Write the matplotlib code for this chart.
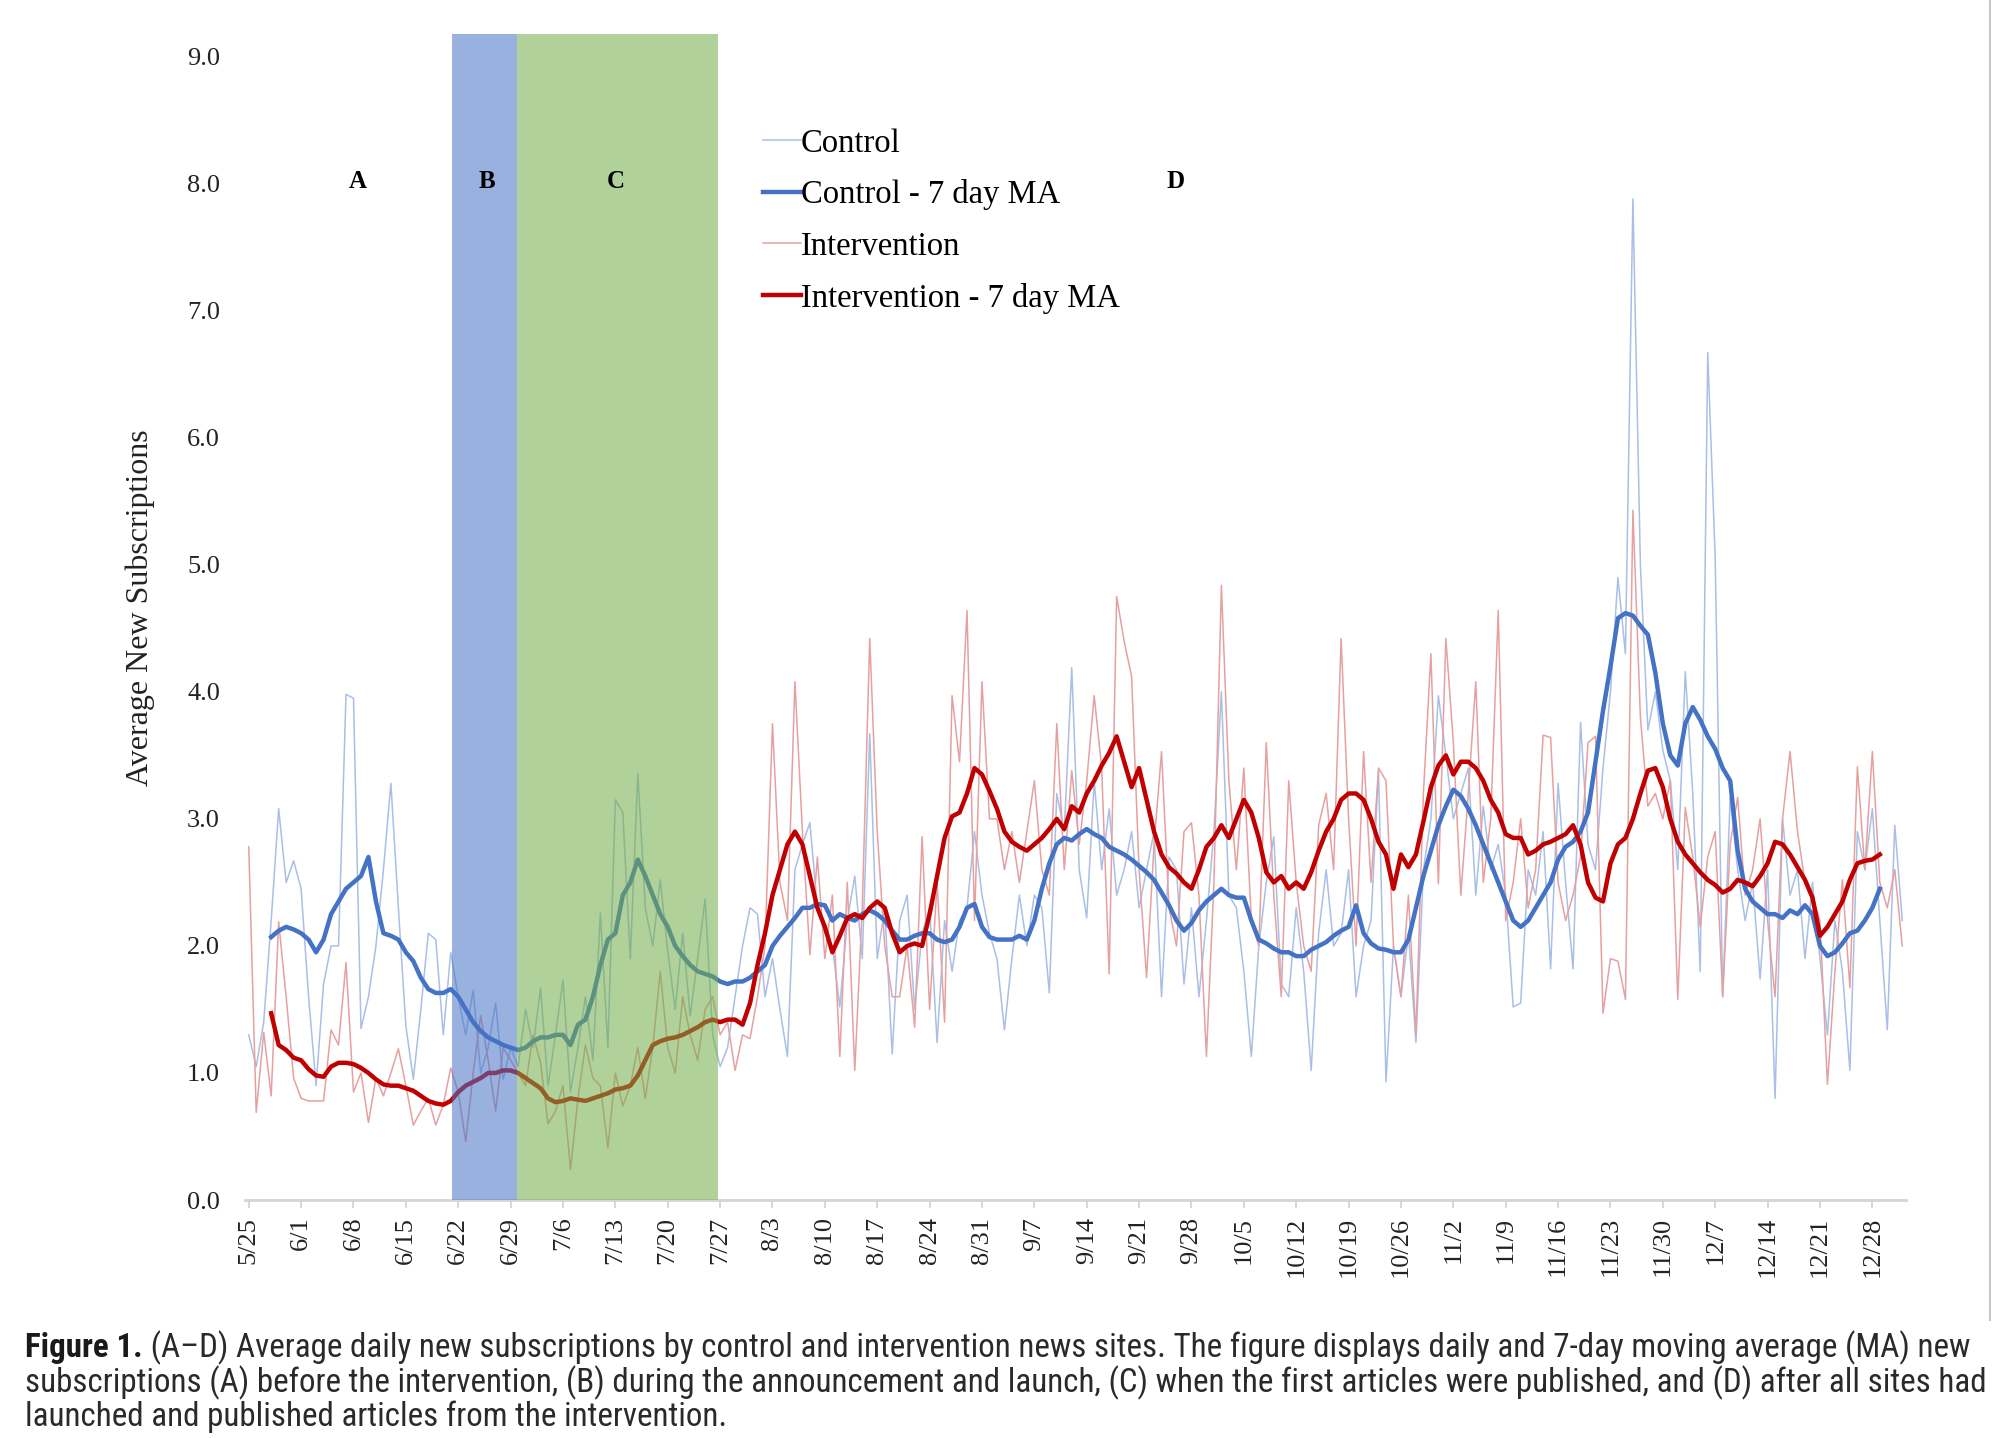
import matplotlib
matplotlib.use("Agg")
import matplotlib.pyplot as plt
from matplotlib import font_manager
from matplotlib.lines import Line2D
import numpy as np

# daily values, 5/25 .. 1/1 (one per day)
control_daily = [
    1.3, 1.05, 1.4, 2.2, 3.08, 2.5, 2.67,
    2.45, 1.6, 0.9, 1.7, 2.0, 2.0, 3.98,
    3.95, 1.35, 1.6, 2.0, 2.6, 3.28, 2.3,
    1.37, 0.95, 1.5, 2.1, 2.05, 1.3, 1.95,
    1.6, 1.3, 1.65, 1.0, 1.2, 1.55, 0.95,
    1.2, 1.05, 1.5, 1.2, 1.67, 0.9, 1.3,
    1.73, 0.85, 1.2, 1.6, 1.1, 2.26, 1.2,
    3.15, 3.05, 1.9, 3.36, 2.3, 2.0, 2.52,
    1.96, 1.5, 2.1, 1.45, 1.9, 2.37, 1.3,
    1.05, 1.2, 1.6, 2.0, 2.3, 2.25, 1.6,
    1.9, 1.5, 1.13, 2.6, 2.8, 2.97, 2.3,
    2.1, 2.0, 1.52, 2.2, 2.55, 1.9, 3.67,
    1.9, 2.3, 1.15, 2.2, 2.4, 1.5, 2.1,
    2.3, 1.24, 2.2, 1.8, 2.2, 2.3, 2.9,
    2.4, 2.1, 1.9, 1.34, 1.9, 2.4, 2.0,
    2.4, 2.3, 1.63, 3.2, 2.9, 4.19, 2.6,
    2.22, 3.3, 2.6, 3.08, 2.4, 2.6, 2.9,
    2.3, 2.6, 2.9, 1.6, 2.7, 2.6, 1.7,
    2.3, 1.6, 2.2, 2.9, 4.0, 2.4, 2.3,
    1.8, 1.13, 2.0, 2.5, 2.86, 1.7, 1.6,
    2.3, 1.8, 1.02, 2.1, 2.6, 2.0, 2.1,
    2.6, 1.6, 2.0, 2.2, 3.38, 0.93, 2.0,
    1.6, 2.1, 1.24, 2.6, 3.0, 3.97, 3.5,
    3.0, 3.2, 3.4, 2.4, 3.1, 2.6, 2.8,
    2.4, 1.52, 1.55, 2.6, 2.4, 2.9, 1.82,
    3.28, 2.5, 1.82, 3.76, 2.8, 2.6, 3.4,
    4.0, 4.9, 4.3, 7.88, 5.0, 3.7, 4.0,
    3.54, 3.3, 2.6, 4.16, 3.2, 1.8, 6.67,
    5.05, 1.6, 3.17, 2.6, 2.2, 2.5, 1.74,
    2.6, 0.8, 3.0, 2.4, 2.6, 1.9, 2.5,
    1.9, 1.3, 2.2, 1.8, 1.02, 2.9, 2.6,
    3.08, 2.2, 1.34, 2.95, 2.2,
]

intervention_daily = [
    2.78, 0.69, 1.32, 0.82, 2.19, 1.6, 0.96,
    0.8, 0.78, 0.78, 0.78, 1.34, 1.22, 1.87,
    0.85, 1.0, 0.61, 0.96, 0.82, 1.0, 1.19,
    0.9, 0.59, 0.7, 0.8, 0.59, 0.75, 1.04,
    0.85, 0.46, 1.0, 1.45, 1.1, 0.7, 1.2,
    1.1, 1.0, 0.9, 1.3, 1.08, 0.6, 0.7,
    0.9, 0.24, 0.8, 1.22, 0.96, 0.9, 0.41,
    1.0, 0.74, 0.9, 1.2, 0.8, 1.2, 1.8,
    1.2, 1.0, 1.6, 1.3, 1.1, 1.5, 1.6,
    1.3, 1.4, 1.02, 1.3, 1.27, 1.6, 2.0,
    3.75, 2.5, 2.2, 4.08, 2.9, 1.93, 2.7,
    1.9, 2.4, 1.13, 2.5, 1.02, 2.3, 4.42,
    2.9, 2.0, 1.6, 1.6, 2.0, 1.36, 2.86,
    1.5, 2.5, 1.4, 3.97, 3.45, 4.64, 2.2,
    4.08, 3.0, 3.0, 2.6, 2.9, 2.5, 2.9,
    3.3, 2.6, 2.4, 3.75, 2.6, 3.38, 2.8,
    3.3, 3.97, 3.4, 1.78, 4.75, 4.4, 4.12,
    2.6, 1.75, 2.8, 3.53, 2.3, 2.0, 2.9,
    2.97, 2.4, 1.13, 2.5, 4.84, 3.3, 2.6,
    3.4, 2.2, 2.0, 3.6, 2.4, 1.6, 3.3,
    2.5, 2.0, 1.8, 2.95, 3.2, 2.6, 4.42,
    3.0, 2.0, 3.53, 2.5, 3.4, 3.3, 2.0,
    1.6, 2.4, 1.3, 3.2, 4.3, 2.49, 4.42,
    3.6, 2.4, 3.2, 4.08, 2.5, 3.0, 4.64,
    2.2, 2.5, 3.0, 2.3, 2.6, 3.66, 3.64,
    2.5, 2.2, 2.4, 2.7, 3.6, 3.65, 1.47,
    1.9, 1.88, 1.58, 5.43, 3.8, 3.1, 3.2,
    3.0, 3.3, 1.58, 3.09, 2.7, 2.15, 2.7,
    2.9, 1.6, 2.8, 3.17, 2.4, 2.6, 3.0,
    2.2, 1.6, 3.0, 3.53, 2.9, 2.5, 2.4,
    2.2, 0.91, 1.8, 2.52, 1.67, 3.41, 2.6,
    3.53, 2.5, 2.3, 2.6, 2.0,
]

# centred 7-day moving averages, 5/28 .. 12/29
ma_first_day = 3
control_ma = [
    2.07, 2.12, 2.15, 2.13,
    2.1, 2.05, 1.95, 2.05, 2.25, 2.35, 2.45,
    2.5, 2.55, 2.7, 2.35, 2.1, 2.08, 2.05,
    1.95, 1.88, 1.75, 1.66, 1.63, 1.63, 1.66,
    1.6, 1.5, 1.4, 1.33, 1.28, 1.25, 1.22,
    1.2, 1.18, 1.2, 1.25, 1.28, 1.28, 1.3,
    1.3, 1.22, 1.38, 1.42, 1.6, 1.85, 2.05,
    2.1, 2.4, 2.5, 2.68, 2.55, 2.4, 2.25,
    2.15, 2.0, 1.92, 1.85, 1.8, 1.78, 1.76,
    1.72, 1.7, 1.72, 1.72, 1.75, 1.8, 1.85,
    2.0, 2.08, 2.15, 2.22, 2.3, 2.3, 2.33,
    2.32, 2.2, 2.25, 2.22, 2.2, 2.25, 2.28,
    2.25, 2.2, 2.12, 2.05, 2.05, 2.08, 2.1,
    2.1, 2.05, 2.03, 2.05, 2.15, 2.3, 2.33,
    2.15, 2.07, 2.05, 2.05, 2.05, 2.08, 2.05,
    2.2, 2.45, 2.65, 2.8, 2.85, 2.83, 2.88,
    2.92, 2.88, 2.85, 2.78, 2.75, 2.72, 2.68,
    2.63, 2.58, 2.52, 2.42, 2.32, 2.2, 2.12,
    2.18, 2.28, 2.35, 2.4, 2.45, 2.4, 2.38,
    2.38, 2.2, 2.05, 2.02, 1.98, 1.95, 1.95,
    1.92, 1.92, 1.97, 2.0, 2.03, 2.08, 2.12,
    2.15, 2.32, 2.1, 2.02, 1.98, 1.97, 1.95,
    1.95, 2.05, 2.3, 2.55, 2.75, 2.95, 3.1,
    3.23, 3.18, 3.08, 2.95, 2.8, 2.65, 2.5,
    2.35, 2.2, 2.15, 2.2, 2.3, 2.4, 2.5,
    2.68, 2.78, 2.82, 2.9, 3.05, 3.45, 3.85,
    4.2, 4.58, 4.62, 4.6, 4.52, 4.45, 4.15,
    3.75, 3.5, 3.42, 3.75, 3.88, 3.78, 3.65,
    3.55, 3.4, 3.3, 2.75, 2.45, 2.35, 2.3,
    2.25, 2.25, 2.22, 2.28, 2.25, 2.32, 2.25,
    2.0, 1.92, 1.95, 2.02, 2.1, 2.12, 2.2,
    2.3, 2.45,
]

intervention_ma = [
    1.47, 1.22, 1.18, 1.12,
    1.1, 1.03, 0.98, 0.97, 1.05, 1.08, 1.08,
    1.07, 1.04, 1.0, 0.95, 0.91, 0.9, 0.9,
    0.88, 0.86, 0.82, 0.78, 0.76, 0.75, 0.78,
    0.85, 0.9, 0.93, 0.96, 1.0, 1.0, 1.02,
    1.02, 1.0, 0.96, 0.92, 0.88, 0.8, 0.77,
    0.78, 0.8, 0.79, 0.78, 0.8, 0.82, 0.84,
    0.87, 0.88, 0.9, 0.98, 1.1, 1.22, 1.25,
    1.27, 1.28, 1.3, 1.33, 1.36, 1.4, 1.42,
    1.4, 1.42, 1.42, 1.38, 1.55, 1.85, 2.1,
    2.4, 2.6, 2.8, 2.9, 2.8, 2.55, 2.3,
    2.15, 1.95, 2.08, 2.22, 2.25, 2.22, 2.3,
    2.35, 2.3, 2.1, 1.95, 2.0, 2.02, 2.0,
    2.25, 2.55, 2.85, 3.02, 3.05, 3.2, 3.4,
    3.35, 3.22, 3.08, 2.9, 2.82, 2.78, 2.75,
    2.8, 2.85, 2.92, 3.0, 2.92, 3.1, 3.05,
    3.2, 3.3, 3.42, 3.52, 3.65, 3.45, 3.25,
    3.4, 3.15, 2.9, 2.72, 2.62, 2.57, 2.5,
    2.45, 2.6, 2.78, 2.85, 2.95, 2.85, 3.0,
    3.15, 3.05, 2.85, 2.58, 2.5, 2.55, 2.45,
    2.5, 2.45, 2.58, 2.75, 2.9, 3.0, 3.15,
    3.2, 3.2, 3.15, 3.0, 2.82, 2.72, 2.45,
    2.72, 2.62, 2.72, 2.98, 3.25, 3.42, 3.5,
    3.35, 3.45, 3.45, 3.4, 3.3, 3.15, 3.05,
    2.88, 2.85, 2.85, 2.72, 2.75, 2.8, 2.82,
    2.85, 2.88, 2.95, 2.8, 2.5, 2.38, 2.35,
    2.65, 2.8, 2.85, 3.0, 3.2, 3.38, 3.4,
    3.25, 3.0, 2.82, 2.72, 2.65, 2.58, 2.52,
    2.48, 2.42, 2.45, 2.52, 2.5, 2.47, 2.55,
    2.65, 2.82, 2.8, 2.72, 2.62, 2.52, 2.38,
    2.08, 2.15, 2.25, 2.35, 2.52, 2.65, 2.67,
    2.68, 2.72,
]

tick_labels = ['5/25', '6/1', '6/8', '6/15', '6/22', '6/29', '7/6', '7/13',
               '7/20', '7/27', '8/3', '8/10', '8/17', '8/24', '8/31', '9/7',
               '9/14', '9/21', '9/28', '10/5', '10/12', '10/19', '10/26',
               '11/2', '11/9', '11/16', '11/23', '11/30', '12/7', '12/14',
               '12/21', '12/28']

# phases in day units from 5/25
period_b = (27.1, 35.9)
period_c = (35.9, 62.7)
phase_names = ['A', 'B', 'C', 'D']

caption_bold = "Figure 1."
caption_lines = [
    " (A\u2013D) Average daily new subscriptions by control and intervention news sites. "
    "The figure displays daily and 7-day moving average (MA) new",
    "subscriptions (A) before the intervention, (B) during the announcement and launch, "
    "(C) when the first articles were published, and (D) after all sites had",
    "launched and published articles from the intervention.",
]


def pick_font(names):
    have = {f.name for f in font_manager.fontManager.ttflist}
    for n in names:
        if n in have:
            return n
    return 'DejaVu Sans'


def main():
    serif = 'Liberation Serif'
    cap_font = pick_font(['Liberation Sans Narrow', 'Roboto Condensed',
                          'Open Sans Condensed', 'Liberation Sans'])

    fig = plt.figure(figsize=(20, 14.38), dpi=100)
    ax = fig.add_axes([0.1225, 0.1655, 0.8305, 0.811])

    days = np.arange(len(control_daily))
    ma_days = days[ma_first_day:ma_first_day + len(control_ma)]

    ax.plot(days, control_daily, color='#A9BFE6', lw=1.1, label='Control', zorder=2)
    ax.plot(ma_days, control_ma, color='#4472C4', lw=3.2,
            label='Control - 7 day MA', zorder=4)
    ax.plot(days, intervention_daily, color='#E6A0A0', lw=1.1,
            label='Intervention', zorder=2)
    ax.plot(ma_days, intervention_ma, color='#C00000', lw=3.2,
            label='Intervention - 7 day MA', zorder=4)

    # phase bands sit over the lines, semi transparent
    ax.axvspan(*period_b, color='#4472C4', alpha=0.55, lw=0, zorder=5)
    ax.axvspan(*period_c, color='#70AD47', alpha=0.55, lw=0, zorder=5)

    for name, xpos in zip(phase_names, [14.6, 31.8, 49.1, 123.9]):
        ax.text(xpos, 8.02, name, family=serif, fontsize=18, fontweight='bold',
                ha='center', va='center', zorder=6)

    ax.set_xlim(-0.5, 221.5)
    ax.set_ylim(0, 9.18)
    ax.set_yticks(np.arange(0, 9.5, 1.0))
    ax.set_yticklabels([f"{v:.1f}" for v in np.arange(0, 9.5, 1.0)],
                       family=serif, fontsize=19, color='#222222')
    ax.set_xticks(np.arange(len(tick_labels)) * 7)
    ax.set_xticklabels(tick_labels, rotation=90, family=serif, fontsize=19,
                       color='#222222')
    ax.tick_params(axis='y', length=0, pad=18)
    ax.tick_params(axis='x', length=6, width=1.2, color='#d0d0d0', pad=6)

    for s in ['top', 'right', 'left']:
        ax.spines[s].set_visible(False)
    ax.spines['bottom'].set_color('#d5d5d5')
    ax.spines['bottom'].set_linewidth(2)

    ax.set_ylabel('Average New Subscriptions', family=serif, fontsize=23,
                  color='#222222')
    ax.yaxis.set_label_coords(-0.054, 0.508)

    ax.legend(loc='upper left', bbox_to_anchor=(763 / 2000, 1 - 128 / 1438),
              bbox_transform=fig.transFigure, frameon=False,
              prop={'family': serif, 'size': 23.5}, handlelength=1.15,
              handletextpad=0.0, labelspacing=0.64, borderpad=0,
              borderaxespad=0)

    # caption under the chart
    ys = [1348, 1383, 1417]
    bold = fig.text(25 / 2000, 1 - ys[0] / 1438, caption_bold, family=cap_font,
                    fontweight='bold', fontsize=17, va='center', color='#1a1a1a')
    first = ax.annotate(caption_lines[0], xy=(1, 0.5), xycoords=bold,
                        va='center', ha='left', family=cap_font, fontsize=17,
                        color='#2a2a2a', annotation_clip=False)
    others = [fig.text(25 / 2000, 1 - y / 1438, line, family=cap_font,
                       fontsize=17, va='center', color='#2a2a2a')
              for y, line in zip(ys[1:], caption_lines[1:])]

    fig.canvas.draw()
    r = fig.canvas.get_renderer()
    width = bold.get_window_extent(r).width + first.get_window_extent(r).width
    scale = 1938 / width
    for t in [bold, first] + others:
        t.set_fontsize(t.get_fontsize() * scale)

    fig.add_artist(Line2D([1990 / 2000] * 2, [1 - 1320 / 1438, 1],
                          transform=fig.transFigure, color='#c8c8c8', lw=1.5))

    fig.savefig('out.png', dpi=100)


if __name__ == "__main__":
    main()
